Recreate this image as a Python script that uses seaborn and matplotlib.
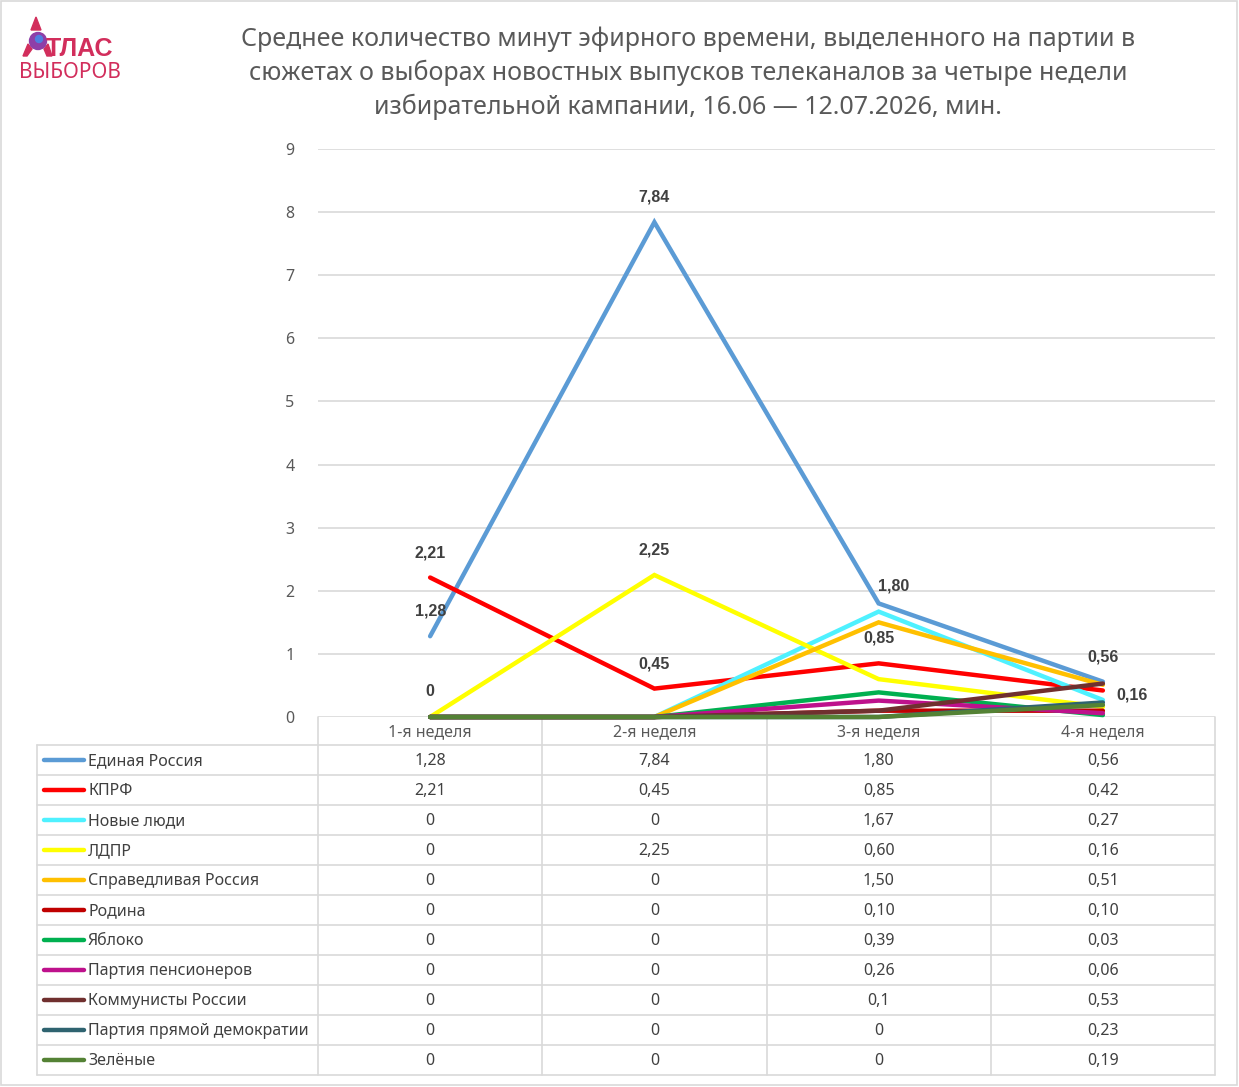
import matplotlib
matplotlib.use("Agg")
import matplotlib.pyplot as plt
import seaborn as sns
import pandas as pd
from matplotlib.patches import Rectangle, Circle, Polygon

# ---------------- data ----------------
weeks = ["1-я неделя", "2-я неделя", "3-я неделя", "4-я неделя"]
parties = ["Единая Россия", "КПРФ", "Новые люди", "ЛДПР", "Справедливая Россия",
           "Родина", "Яблоко", "Партия пенсионеров", "Коммунисты России",
           "Партия прямой демократии", "Зелёные"]
edinaya_rossiya = ["1,28", "7,84", "1,80", "0,56"]
kprf = ["2,21", "0,45", "0,85", "0,42"]
novye_lyudi = ["0", "0", "1,67", "0,27"]
ldpr = ["0", "2,25", "0,60", "0,16"]
spravedlivaya = ["0", "0", "1,50", "0,51"]
rodina = ["0", "0", "0,10", "0,10"]
yabloko = ["0", "0", "0,39", "0,03"]
pensionery = ["0", "0", "0,26", "0,06"]
kommunisty = ["0", "0", "0,1", "0,53"]
ppd = ["0", "0", "0", "0,23"]
zelenye = ["0", "0", "0", "0,19"]
table_text = [edinaya_rossiya, kprf, novye_lyudi, ldpr, spravedlivaya, rodina,
              yabloko, pensionery, kommunisty, ppd, zelenye]
colors = ["#5B9BD5", "#FF0000", "#4FF1FF", "#FFFF00", "#FFC000", "#C00000",
          "#00B050", "#BE118C", "#70302F", "#2F6370", "#548235"]
# data labels shown on chart: (party index, week index, offset px x, offset px y)
label_specs = [(0, 0, 0, 25), (1, 0, 0, 25), (3, 0, 0, 25), (0, 1, 0, 25),
               (3, 1, 0, 25), (1, 1, 0, 25), (0, 2, 15, 17), (1, 2, 0, 25),
               (0, 3, 0, 25), (3, 3, 29, 12)]

values = [[float(s.replace(",", ".")) for s in row] for row in table_text]
rows = []
for p, vals in zip(parties, values):
    for i, v in enumerate(vals):
        rows.append({"party": p, "week": i, "value": v})
df = pd.DataFrame(rows)

# ---------------- layout ----------------
W, H = 1239, 1087
sns.set_theme(style="white")
plt.rcParams["font.family"] = ["Noto Sans", "DejaVu Sans"]
BOLD = ["Liberation Sans", "DejaVu Sans"]
fig = plt.figure(figsize=(W / 100, H / 100), dpi=100)
fig.patch.set_facecolor("white")

# overlay axes in pixel coordinates for table / frame / logo
ov = fig.add_axes([0, 0, 1, 1], zorder=0)
ov.set_xlim(0, W)
ov.set_ylim(H, 0)
ov.axis("off")

L, R, T, B = 318, 1215, 149, 717
ax = fig.add_axes([L / W, 1 - B / H, (R - L) / W, (B - T) / H], zorder=2)
ax.set_facecolor("none")

sns.lineplot(data=df, x="week", y="value", hue="party", hue_order=parties,
             palette=colors, linewidth=3.2, sort=False, legend=False, ax=ax,
             estimator=None)
for ln in ax.lines:
    ln.set_solid_joinstyle("miter")
    ln.set_clip_on(False)

ax.set_xlim(-0.5, 3.5)
ax.set_ylim(0, 9)
ax.set_yticks(range(0, 10))
ax.set_xticks([])
ax.set_xlabel("")
ax.set_ylabel("")
ax.yaxis.grid(True, color="#D9D9D9", linewidth=1.2)
ax.set_axisbelow(True)
for s in ax.spines.values():
    s.set_visible(False)
ax.tick_params(axis="y", length=0, pad=17, labelsize=11.5, labelcolor="#595959")

# data labels
for pi, wi, dx, dy in label_specs:
    ax.annotate(table_text[pi][wi], (wi, values[pi][wi]), xytext=(dx * 0.72, dy * 0.72),
                textcoords="offset points", ha="center", va="center",
                fontsize=11.5, fontweight="bold", color="#404040", family=BOLD)

# title
title_lines = ["Среднее количество минут эфирного времени, выделенного на партии в",
               "сюжетах о выборах новостных выпусков телеканалов за четыре недели",
               "избирательной кампании, 16.06 — 12.07.2026, мин."]
for k, t in enumerate(title_lines):
    ov.text(688, 39 + 34 * k, t, ha="center", va="center", fontsize=18, color="#595959")

# table
grid_c = "#D9D9D9"
col_w = (R - L) / 4
row_top, row_h = 745, 30
nrows = len(parties)
bottom = row_top + row_h * nrows
ov.plot([L, L], [B, bottom], color=grid_c, lw=1.2)
for j in range(1, 5):
    x = L + col_w * j
    ov.plot([x, x], [B, bottom], color=grid_c, lw=1.2)
ov.plot([37, 37], [row_top, bottom], color=grid_c, lw=1.2)
for r in range(nrows + 1):
    y = row_top + row_h * r
    ov.plot([37, R], [y, y], color=grid_c, lw=1.2)
for j, wk in enumerate(weeks):
    ov.text(L + col_w * (j + 0.5), 732, wk, ha="center", va="center",
            fontsize=11.5, color="#595959")
for r, (p, c, txt) in enumerate(zip(parties, colors, table_text)):
    yc = row_top + row_h * (r + 0.5)
    ov.plot([44, 84], [yc, yc], color=c, lw=3.2, solid_capstyle="round")
    ov.text(88, yc + 1, p, ha="left", va="center", fontsize=11.5, color="#404040")
    for j, s in enumerate(txt):
        ov.text(L + col_w * (j + 0.5), yc + 1, s, ha="center", va="center",
                fontsize=11.5, color="#404040")

# outer frame
ov.add_patch(Rectangle((1, 1), W - 3, H - 3, fill=False, edgecolor="#D9D9D9", lw=1.2))

# logo
logo_c = "#D22E5C"
ov.add_patch(Polygon([[31, 30], [36, 17], [41, 30]], closed=True, color=logo_c))
ov.add_patch(Polygon([[23, 56], [28, 44], [32, 49], [27, 56]], closed=True, color=logo_c))
ov.add_patch(Polygon([[44, 49], [48, 44], [52, 56], [47, 56]], closed=True, color=logo_c))
ov.add_patch(Circle((38, 41), 8.5, color="#8E3FA8", zorder=3))
ov.add_patch(Circle((39, 39), 3.5, color="#4F7FE0", zorder=4))
ov.text(46, 49, "ТЛАС", ha="left", va="center", fontsize=18, fontweight="bold",
        color=logo_c, family=BOLD)
ov.text(19, 73, "ВЫБОРОВ", ha="left", va="center", fontsize=15, color=logo_c)

fig.savefig("out.png", dpi=100, facecolor="white")
